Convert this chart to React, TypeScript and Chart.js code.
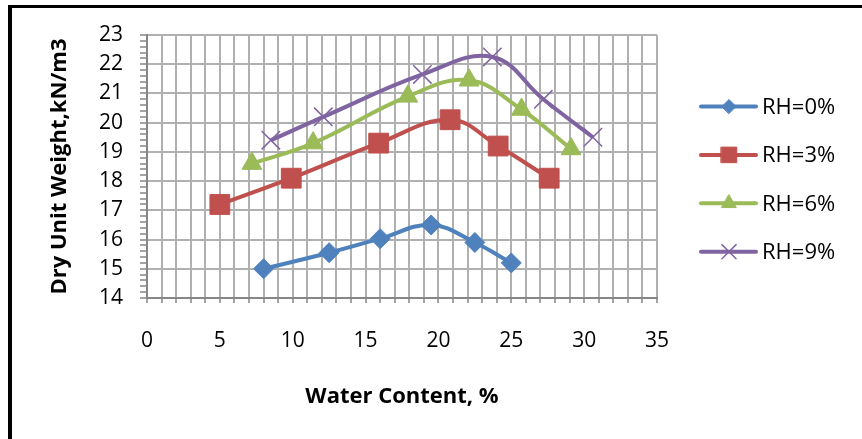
import React, { useEffect, useRef } from "react";
import { Chart, registerables } from "chart.js";
import { drawPoint } from "chart.js/helpers";

Chart.register(...registerables);

// ---- data ----
const seriesLabels = ["RH=0%", "RH=3%", "RH=6%", "RH=9%"];
const waterContent0 = [8.0, 12.5, 16.0, 19.5, 22.5, 25.0];
const dryUnitWeight0 = [15.0, 15.55, 16.03, 16.5, 15.9, 15.2];
const waterContent3 = [5.0, 9.9, 15.9, 20.8, 24.1, 27.6];
const dryUnitWeight3 = [17.2, 18.1, 19.3, 20.1, 19.2, 18.1];
const waterContent6 = [7.2, 11.4, 17.9, 22.1, 25.7, 29.1];
const dryUnitWeight6 = [18.6, 19.3, 20.9, 21.45, 20.45, 19.1];
const waterContent9 = [8.5, 12.1, 18.9, 23.7, 27.2, 30.6];
const dryUnitWeight9 = [19.4, 20.2, 21.65, 22.25, 20.8, 19.5];
const xTickLabels = ["0", "5", "10", "15", "20", "25", "30", "35"];
const yTickLabels = ["14", "15", "16", "17", "18", "19", "20", "21", "22", "23"];

// ---- styles ----
const colors = ["#4F81BD", "#C0504D", "#9BBB59", "#8064A2"];
const pointStyles = ["rectRot", "rect", "triangle", "crossRot"];
const pointRadii = [10, 14, 11.5, 13];
const legendRadii = [7, 11, 8.5, 10];
const FONT = "'Open Sans', 'DejaVu Sans', sans-serif";

const toPoints = (xs: number[], ys: number[]) => xs.map((x, i) => ({ x, y: ys[i] }));

const legendPlugin = {
  id: "excelLegend",
  afterDraw(chart: any) {
    const ctx = chart.ctx as CanvasRenderingContext2D;
    chart.data.datasets.forEach((ds: any, i: number) => {
      const y = 106.5 + i * 48.4;
      ctx.save();
      ctx.strokeStyle = ds.borderColor;
      ctx.lineWidth = 4;
      ctx.lineCap = "round";
      ctx.beginPath();
      ctx.moveTo(701, y);
      ctx.lineTo(756, y);
      ctx.stroke();
      ctx.fillStyle = ds.pointBackgroundColor;
      ctx.strokeStyle = ds.pointBorderColor;
      ctx.lineWidth = ds.pointBorderWidth;
      drawPoint(ctx, { pointStyle: ds.pointStyle, rotation: 0, radius: legendRadii[i], borderWidth: ds.pointBorderWidth }, 729, y);
      ctx.fillStyle = "#000";
      ctx.font = `22px ${FONT}`;
      ctx.textBaseline = "middle";
      ctx.textAlign = "left";
      ctx.fillText(ds.label, 762, y + 1);
      ctx.restore();
    });
  },
};

const isInt = (v: number) => Math.abs(v - Math.round(v)) < 1e-6;

export default function App() {
  const canvasRef = useRef<HTMLCanvasElement | null>(null);

  useEffect(() => {
    const canvas = canvasRef.current;
    if (!canvas) return;
    const xs = [waterContent0, waterContent3, waterContent6, waterContent9];
    const ys = [dryUnitWeight0, dryUnitWeight3, dryUnitWeight6, dryUnitWeight9];
    const chart = new Chart(canvas, {
      type: "line",
      data: {
        datasets: seriesLabels.map((label, i) => ({
          label,
          data: toPoints(xs[i], ys[i]),
          borderColor: colors[i],
          backgroundColor: colors[i],
          borderWidth: 4,
          tension: 0.4,
          pointStyle: pointStyles[i] as any,
          pointRadius: pointRadii[i],
          pointBackgroundColor: colors[i],
          pointBorderColor: colors[i],
          pointBorderWidth: i === 3 ? 1.5 : 1,
          fill: false,
        })),
      },
      options: {
        responsive: false,
        animation: false,
        devicePixelRatio: 1,
        layout: { padding: { left: 0, top: 35, right: 205, bottom: 0 } },
        plugins: { legend: { display: false }, tooltip: { enabled: false } },
        scales: {
          x: {
            type: "linear",
            min: 0,
            max: 35,
            afterFit: (s: any) => {
              s.height = 141;
            },
            ticks: {
              stepSize: 1,
              autoSkip: false,
              maxRotation: 0,
              padding: 25,
              color: "#000",
              font: { family: FONT, size: 21 },
              callback: (v: any) => {
                const n = Number(v);
                return n % 5 === 0 ? xTickLabels[n / 5] : "";
              },
            },
            grid: {
              color: "#b0b0b0",
              lineWidth: 2,
              tickColor: "#868686",
              tickLength: 5,
              tickWidth: 1.5,
            },
            border: { color: "#868686", width: 2 },
            title: {
              display: true,
              text: "Water Content, %",
              color: "#000",
              font: { family: FONT, size: 22, weight: "bold" },
              padding: { top: 0, bottom: 29 },
            },
          },
          y: {
            type: "linear",
            min: 14,
            max: 23,
            afterFit: (s: any) => {
              s.width = 147;
            },
            ticks: {
              stepSize: 0.2,
              autoSkip: false,
              padding: 17,
              color: "#000",
              font: { family: FONT, size: 21 },
              callback: (v: any) => {
                const n = Number(v);
                return isInt(n) ? yTickLabels[Math.round(n) - 14] : "";
              },
            },
            grid: {
              color: (c: any) => (c.tick && isInt(c.tick.value) ? "#b0b0b0" : "rgba(0,0,0,0)"),
              lineWidth: 2,
              tickColor: "#868686",
              tickLength: 7,
              tickWidth: 1.5,
            },
            border: { color: "#868686", width: 2 },
            title: {
              display: true,
              text: "Dry Unit Weight,kN/m3",
              color: "#000",
              font: { family: FONT, size: 22, weight: "bold" },
              padding: { top: 47, bottom: 0 },
            },
          },
        },
      },
      plugins: [legendPlugin],
    });
    return () => chart.destroy();
  }, []);

  return (
    <div style={{ position: "fixed", left: 0, top: 0, width: 862, height: 439, overflow: "hidden", background: "#fff" }}>
      <canvas ref={canvasRef} width={862} height={439} style={{ position: "absolute", left: 0, top: 0, width: 862, height: 439 }} />
      <div
        style={{
          position: "absolute",
          left: 8,
          top: 5,
          width: 900,
          height: 500,
          borderLeft: "4px solid #000",
          borderTop: "3px solid #000",
          pointerEvents: "none",
        }}
      />
    </div>
  );
}
